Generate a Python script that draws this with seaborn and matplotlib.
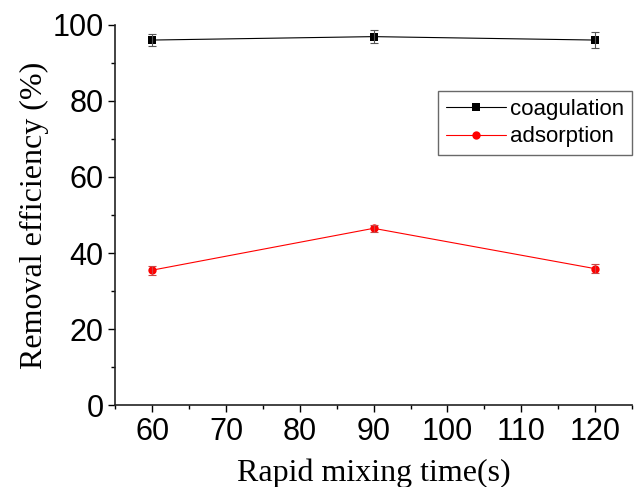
import pandas as pd
import matplotlib.pyplot as plt
import seaborn as sns
from matplotlib.ticker import MultipleLocator

# values
mixing_time = [60, 90, 120]
coagulation = [96.0, 96.9, 96.0]
coagulation_err = [1.5, 1.8, 2.0]
adsorption = [35.5, 46.5, 35.9]
adsorption_err = [1.2, 1.0, 1.1]

df = pd.DataFrame({
    "time": mixing_time * 2,
    "eff": coagulation + adsorption,
    "err": coagulation_err + adsorption_err,
    "series": ["coagulation"] * 3 + ["adsorption"] * 3,
})

sns.set_style("ticks")
plt.rcParams['font.family'] = ['Liberation Sans', 'DejaVu Sans']
plt.rcParams['text.color'] = 'black'
plt.rcParams['axes.labelcolor'] = 'black'
plt.rcParams['xtick.color'] = 'black'
plt.rcParams['ytick.color'] = 'black'

fig, ax = plt.subplots(figsize=(6.37, 4.87), dpi=100)
fig.subplots_adjust(left=0.181, right=0.992, top=0.949, bottom=0.168)

colors = {"coagulation": "black", "adsorption": "red"}
markers = {"coagulation": "s", "adsorption": "o"}

sns.lineplot(data=df, x="time", y="eff", hue="series", style="series",
             palette=colors, markers=markers, dashes=False, lw=0.8,
             markersize=6, markeredgewidth=0, ax=ax, clip_on=False)

# error bars
for name, grp in df.groupby("series"):
    ax.errorbar(grp["time"], grp["eff"], yerr=grp["err"], fmt="none",
                ecolor="#555555" if name == "coagulation" else "#cc4444",
                elinewidth=0.8, capsize=3, capthick=0.8)

ax.set_xlim(55, 125)
ax.set_ylim(0, 100)
ax.xaxis.set_major_locator(MultipleLocator(10))
ax.xaxis.set_minor_locator(MultipleLocator(5))
ax.yaxis.set_major_locator(MultipleLocator(20))
ax.yaxis.set_minor_locator(MultipleLocator(10))
ax.tick_params(which="major", direction="out", length=5, width=1, labelsize=22)
ax.tick_params(which="minor", direction="out", length=3, width=1)
sns.despine(ax=ax)
for s in ("left", "bottom"):
    ax.spines[s].set_linewidth(1.2)
    ax.spines[s].set_color("#222222")

ax.set_xlabel("Rapid mixing time(s)", family="Liberation Serif", fontsize=23, labelpad=8)
ax.set_ylabel("Removal efficiency (%)", family="Liberation Serif", fontsize=23, labelpad=2)

leg = ax.legend(loc="center right", bbox_to_anchor=(1.0, 0.742), fontsize=16,
                frameon=True, fancybox=False, edgecolor="#444444", borderaxespad=0,
                handlelength=2.7, borderpad=0.35, labelspacing=0.3, handletextpad=0.2)
leg.get_frame().set_linewidth(1)

fig.savefig("out.png", dpi=100)
